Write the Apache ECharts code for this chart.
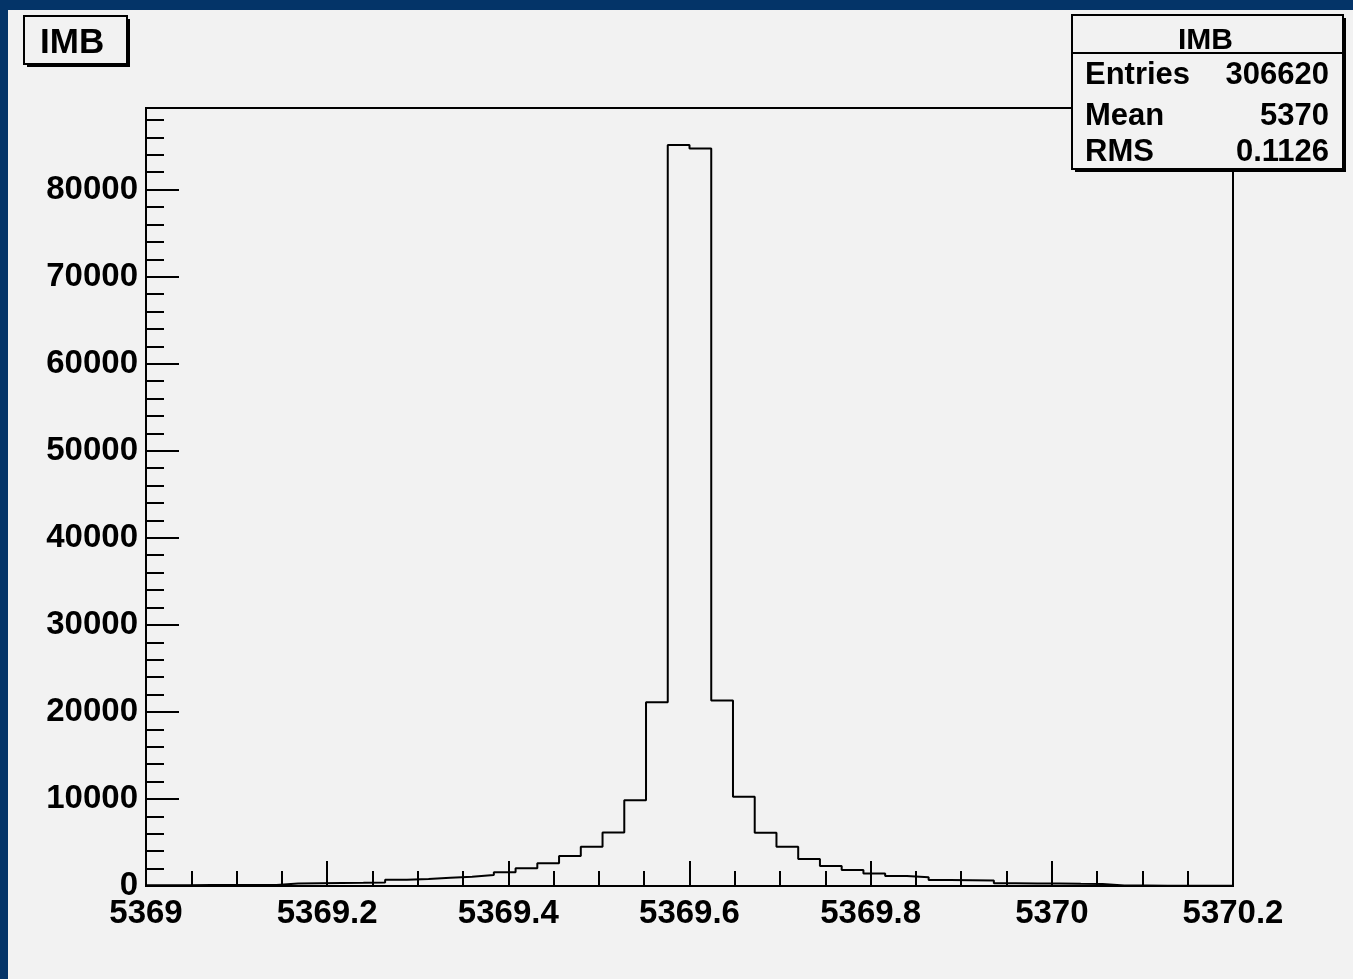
<!DOCTYPE html>
<html>
<head>
<meta charset="utf-8">
<script src="https://cdn.jsdelivr.net/npm/echarts@6/dist/echarts.min.js"></script>
<style>
  html, body { margin: 0; padding: 0; width: 1353px; height: 979px; background: #043468; overflow: hidden; }
  #chart { position: absolute; left: 8px; top: 10px; width: 1345px; height: 969px; background: #f2f2f2; }
</style>
</head>
<body>
<div id="chart"></div>
<script>
// Histogram definition
const histTitle = 'IMB';
const xMin = 5369.0;
const xMax = 5370.2;
const binWidth = 0.024;
// bin contents (50 bins)
const binCounts = [
  100, 100, 110, 110, 120, 120,
  300, 320, 340, 360, 390,
  720, 800, 960, 1060, 1260, 1570, 2030, 2600, 3440, 4500, 6150, 9860, 21120,
  85120, 84730,
  21320, 10240, 6110, 4510, 3100, 2290, 1830, 1450, 1150, 1000,
  700, 660, 620, 330, 300, 280, 250, 230,
  60, 50, 40, 40, 30, 30
];
const yMax = 89376;
const xTickLabels = ['5369', '5369.2', '5369.4', '5369.6', '5369.8', '5370', '5370.2'];
const statsLabels = ['Entries', 'Mean', 'RMS'];
const statsValues = ['306620', '5370', '0.1126'];

// step-line data: [lowEdge, content], plus closing point at xMax
const stepData = binCounts.map((v, k) => [xMin + k * binWidth, v]);
stepData.push([xMax, binCounts[binCounts.length - 1]]);

const FONT = 'Liberation Sans, Arial, Helvetica, sans-serif';

const chart = echarts.init(document.getElementById('chart'), null, { renderer: 'canvas' });

const statsRowsY = [65, 106, 142];
const statsGraphics = [];
statsLabels.forEach((lab, i) => {
  statsGraphics.push({
    type: 'text', left: 1077, top: statsRowsY[i] - 15, z: 102,
    style: { text: lab, font: 'bold 31px ' + FONT, fill: '#000' }
  });
  statsGraphics.push({
    type: 'text', right: 1345 - 1321, top: statsRowsY[i] - 15, z: 102,
    style: { text: statsValues[i], font: 'bold 31px ' + FONT, fill: '#000', textAlign: 'right' }
  });
});

const option = {
  backgroundColor: '#f2f2f2',
  animation: false,
  grid: {
    left: 138, right: 120, top: 98, bottom: 93,
    show: true, borderColor: '#000', borderWidth: 2, backgroundColor: 'transparent'
  },
  xAxis: {
    type: 'value', min: xMin, max: xMax, interval: 0.2,
    axisLine: { show: true, onZero: false, lineStyle: { color: '#000', width: 2 } },
    axisTick: { show: true, inside: true, length: 25, lineStyle: { color: '#000', width: 2 } },
    minorTick: { show: true, splitNumber: 4, length: 15, lineStyle: { color: '#000', width: 2 } },
    splitLine: { show: false },
    axisLabel: {
      show: true, margin: 11, color: '#000', fontSize: 33, fontWeight: 'bold', fontFamily: FONT,
      formatter: function (v) {
        const idx = Math.round((v - xMin) / 0.2);
        return xTickLabels[idx] !== undefined ? xTickLabels[idx] : '';
      }
    }
  },
  yAxis: [
    {
      type: 'value', min: 0, max: yMax, interval: 10000,
      axisLine: { show: true, lineStyle: { color: '#000', width: 2 } },
      axisTick: { show: true, inside: true, length: 33, lineStyle: { color: '#000', width: 2 } },
      splitLine: { show: false },
      axisLabel: {
        show: true, margin: 8, color: '#000', fontSize: 33, fontWeight: 'bold', fontFamily: FONT,
        showMaxLabel: false,
        formatter: function (v) { return String(Math.round(v)); }
      }
    },
    {
      type: 'value', min: 0, max: yMax, interval: 2000, position: 'left',
      axisLine: { show: false },
      axisTick: { show: true, inside: true, length: 18, lineStyle: { color: '#000', width: 2 } },
      splitLine: { show: false },
      axisLabel: { show: false }
    }
  ],
  series: [{
    name: histTitle,
    type: 'line', step: 'end', symbol: 'none', yAxisIndex: 0,
    lineStyle: { color: '#000', width: 2 },
    data: stepData
  }],
  graphic: [
    // title box with shadow
    { type: 'rect', shape: { x: 19, y: 9, width: 103, height: 48 }, style: { fill: '#000' }, z: 100 },
    { type: 'rect', shape: { x: 16, y: 6, width: 103, height: 48 }, style: { fill: '#f2f2f2', stroke: '#000', lineWidth: 2 }, z: 101 },
    { type: 'text', left: 32, top: 16, z: 102, style: { text: histTitle, font: 'bold 35px ' + FONT, fill: '#000' } },
    // stats box with shadow
    { type: 'rect', shape: { x: 1067, y: 8, width: 271, height: 154 }, style: { fill: '#000' }, z: 100 },
    { type: 'rect', shape: { x: 1064, y: 5, width: 271, height: 154 }, style: { fill: '#f2f2f2', stroke: '#000', lineWidth: 2 }, z: 101 },
    { type: 'line', shape: { x1: 1064, y1: 43, x2: 1335, y2: 43 }, style: { stroke: '#000', lineWidth: 2 }, z: 102 },
    { type: 'text', left: 1170, top: 16, z: 102, style: { text: histTitle, font: 'bold 30px ' + FONT, fill: '#000' } }
  ].concat(statsGraphics)
};

chart.setOption(option);
</script>
</body>
</html>
